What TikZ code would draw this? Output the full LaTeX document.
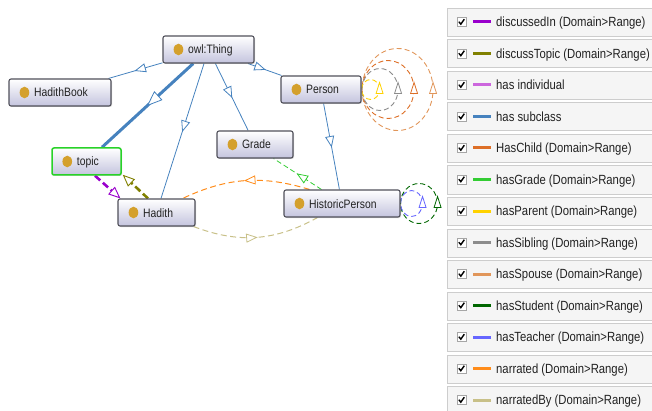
\documentclass[tikz,border=0pt]{standalone}
\usepackage{fontspec}
\setmainfont{Liberation Sans}
\newfontfamily\nfont[FakeStretch=0.85]{Liberation Sans}
\usetikzlibrary{arrows.meta,decorations.markings,shadows}
\pgfdeclarelayer{bg}
\pgfsetlayers{bg,main}
\definecolor{nbord}{RGB}{80,80,90}
\definecolor{nbot}{RGB}{196,196,222}
\definecolor{dotc}{RGB}{212,160,44}
\definecolor{topicg}{RGB}{40,210,40}
\definecolor{cDiscIn}{RGB}{153,0,204}
\definecolor{cDiscTop}{RGB}{128,128,0}
\definecolor{cIndiv}{RGB}{204,102,221}
\definecolor{cSub}{RGB}{70,130,190}
\definecolor{cChild}{RGB}{221,111,39}
\definecolor{cGrade}{RGB}{51,204,51}
\definecolor{cParent}{RGB}{255,210,0}
\definecolor{cSib}{RGB}{140,140,140}
\definecolor{cSpouse}{RGB}{225,150,90}
\definecolor{cStudent}{RGB}{0,102,0}
\definecolor{cTeacher}{RGB}{102,102,255}
\definecolor{cNarr}{RGB}{255,140,26}
\definecolor{cNarrBy}{RGB}{200,192,136}
\definecolor{rowbg}{RGB}{245,245,245}
\definecolor{rowbd}{RGB}{205,205,205}
\definecolor{ltxt}{RGB}{34,34,34}
\tikzset{
  cls/.style={draw=nbord, line width=1.1pt, rounded corners=2pt, top color=white,
    bottom color=nbot, minimum height=27pt, inner sep=0pt,
    drop shadow={shadow xshift=1pt, shadow yshift=-1pt, opacity=0.3}},
  ntext/.style={anchor=base west, inner sep=0pt, font=\nfont\fontsize{12.2}{14}\selectfont, text=ltxt},
  ltext/.style={anchor=base west, inner sep=0pt, font=\nfont\fontsize{13.3}{15}\selectfont, text=ltxt},
  rowbox/.style={draw=rowbd, fill=rowbg, line width=0.8pt, minimum width=230pt, minimum height=28pt, inner sep=0pt, anchor=north west},
  midarrow/.style={postaction={decorate}, decoration={markings,
    mark=at position 0.5 with {\draw[#1, solid, fill=white, line width=0.8pt, rounded corners=0pt]
      (0,0) -- (-10,-4) -- (-10,4) -- cycle;}}},
  bigarrow/.style={postaction={decorate}, decoration={markings,
    mark=at position 0.5 with {\draw[#1, solid, fill=white, line width=0.8pt]
      (0,0) -- (-14,-5.5) -- (-14,5.5) -- cycle;}}},
  subedge/.style={draw=cSub, line width=0.8pt, midarrow=cSub},
  dline/.style={dash pattern=on 6pt off 3.5pt},
  selfloop/.style={draw=#1, line width=0.9pt, dash pattern=on 5pt off 3pt},
  looptip/.style={draw=#1, fill=white, line width=0.8pt},
}
\newcommand{\mkcls}[6]{%
  \node[cls, minimum width=#4, #6] (#1) at (#2,#3) {};
  \fill[dotc] ([xshift=16pt]#1.west) ellipse [x radius=4.8pt, y radius=5.8pt];
  \node[ntext] (#1-t) at ([xshift=25.5pt,yshift=-4.5pt]#1.west) {#5};}
% self loop: colour, node, offset of rightmost point, x radius, y radius
\newcommand{\mkloop}[5]{%
  \draw[selfloop=#1] ([xshift=#3]#2.east) arc[start angle=0, end angle=360, x radius=#4, y radius=#5];
  \draw[looptip=#1] ([xshift=#3,yshift=7pt]#2.east) -- ++(-3.5,-11) -- ++(7,0) -- cycle;}
\begin{document}
\begin{tikzpicture}[x=1pt,y=1pt]
\useasboundingbox (0,0) rectangle (652,410);
\clip (0,0) rectangle (652,410);

% class nodes
\mkcls{thing}{208.5}{360.5}{91pt}{owl:Thing}{}
\mkcls{hb}{60}{317.5}{102pt}{HadithBook}{}
\mkcls{person}{321}{320.5}{80pt}{Person}{}
\mkcls{grade}{255}{265.5}{76pt}{Grade}{}
\mkcls{topic}{86.5}{248.5}{69pt}{topic}{draw=topicg, line width=1.5pt}
\mkcls{hadith}{156.5}{197.5}{77pt}{Hadith}{}
\mkcls{hp}{342}{206.5}{116pt}{HistoricPerson}{}

\begin{pgfonlayer}{bg}
% subclass edges
\draw[subedge] (thing) -- (hb);
\draw[subedge] (thing) -- (hadith);
\draw[subedge] (thing) -- (grade);
\draw[subedge] (thing) -- (person);
\draw[subedge] (person) -- (hp);
\draw[cSub, line width=3pt, bigarrow=cSub] (thing) -- (topic);

% discussedIn / discussTopic
\draw[cDiscIn, line width=2.6pt, dash pattern=on 7pt off 3.5pt,
  -{Triangle[fill=white,length=12pt,width=10pt,line width=0.9pt]}]
  ([xshift=8.5pt]topic.south) -- ([xshift=3pt]hadith.north west);
\draw[cDiscTop, line width=2.6pt, dash pattern=on 7pt off 3.5pt,
  -{Triangle[fill=white,length=12pt,width=10pt,line width=0.9pt]}]
  ([xshift=-8.5pt]hadith.north) -- ([xshift=1pt,yshift=1pt]topic.south east);

% narrated / narratedBy / hasGrade
\draw[cNarr, line width=1pt, dline, midarrow=cNarr]
  ([xshift=26pt]hp.north west) to[bend right=21] ([xshift=-13pt]hadith.north east);
\draw[cNarrBy, line width=1pt, dline, midarrow=cNarrBy]
  ([xshift=-2pt]hadith.south east) to[bend right=25] ([xshift=34pt]hp.south west);
\draw[cGrade, line width=0.8pt, dash pattern=on 5pt off 3pt, midarrow=cGrade]
  ([xshift=38pt]hp.north west) -- ([xshift=-20pt]grade.south east);

% self loops on Person
\mkloop{cSpouse}{person}{71.5pt}{35.5pt}{41pt}
\mkloop{cChild}{person}{52.5pt}{26pt}{29pt}
\mkloop{cSib}{person}{36.5pt}{18pt}{21pt}
\mkloop{cParent}{person}{18pt}{9pt}{10pt}
% self loops on HistoricPerson
\mkloop{cStudent}{hp}{37pt}{18.5pt}{20pt}
\mkloop{cTeacher}{hp}{22pt}{11pt}{13pt}
\end{pgfonlayer}

% legend
\foreach \i/\c/\t in {0/cDiscIn/discussedIn (Domain>Range),
  1/cDiscTop/discussTopic (Domain>Range),
  2/cIndiv/has individual,
  3/cSub/has subclass,
  4/cChild/HasChild (Domain>Range),
  5/cGrade/hasGrade (Domain>Range),
  6/cParent/hasParent (Domain>Range),
  7/cSib/hasSibling (Domain>Range),
  8/cSpouse/hasSpouse (Domain>Range),
  9/cStudent/hasStudent (Domain>Range),
  10/cTeacher/hasTeacher (Domain>Range),
  11/cNarr/narrated (Domain>Range),
  12/cNarrBy/narratedBy (Domain>Range)}{
  \pgfmathsetmacro\cy{388-31.5*\i}
  \node[rowbox] (row\i) at (447,{402-31.5*\i}) {};
  \draw[fill=white, draw=gray!70, line width=0.6pt] (457,\cy-4.5) rectangle (466,\cy+4.5);
  \draw[black, line width=1.4pt] (458.8,\cy+0.3) -- (460.8,\cy-2.2) -- (464.3,\cy+2.8);
  \draw[\c, line width=3pt] (473,\cy) -- (491,\cy);
  \node[ltext] (lab\i) at (496,\cy-4.7) {\t};
}
\end{tikzpicture}
\end{document}
